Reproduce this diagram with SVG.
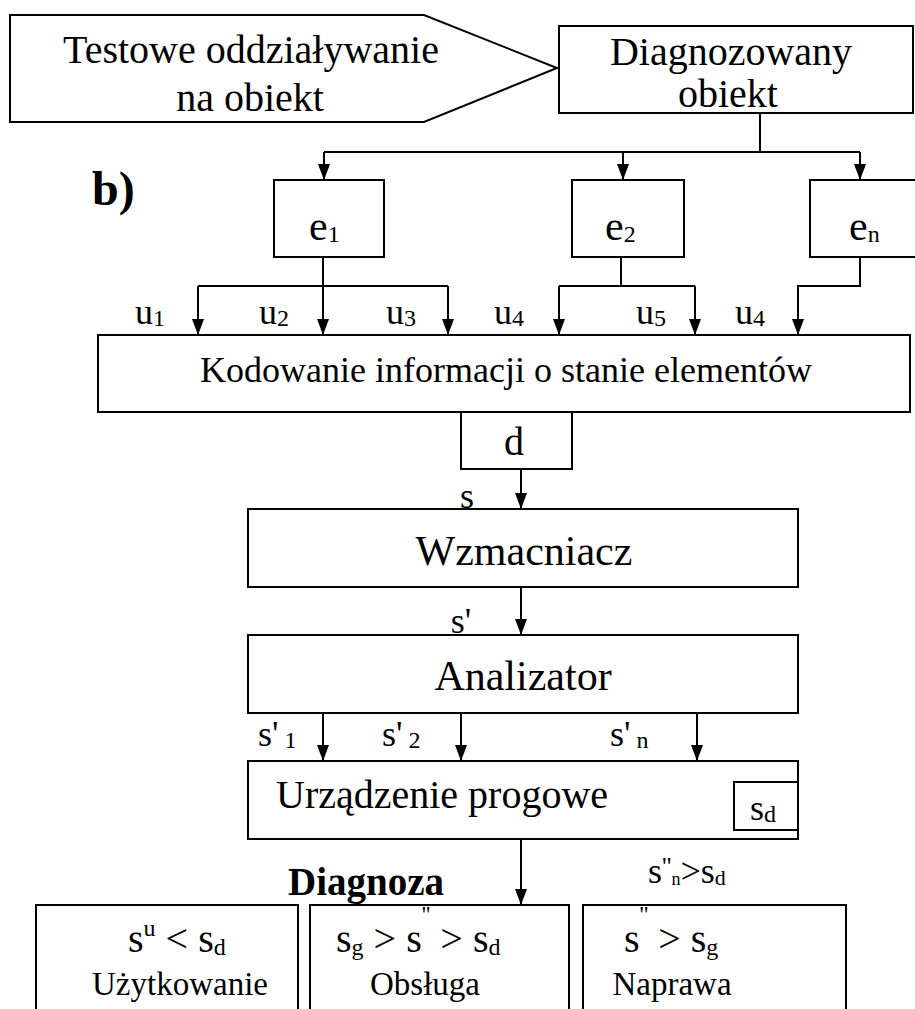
<svg xmlns="http://www.w3.org/2000/svg" width="915" height="1009" viewBox="0 0 915 1009">
  <style>
    .box { fill: #fff; stroke: #000; stroke-width: 2; }
    .wire { fill: none; stroke: #000; stroke-width: 2; }
    .t { font-family: "Liberation Serif", "Times New Roman", serif; fill: #000; }
    .big { font-size: 40px; }
    .mid { font-size: 36px; }
    .lab { font-size: 36px; }
    .elab { font-size: 42px; }
    .sub { font-size: 24px; }
    .cond { font-size: 40px; }
    .bold { font-weight: bold; }
  </style>
  <defs>
    <marker id="arrow" markerUnits="userSpaceOnUse" markerWidth="16" markerHeight="12" refX="16" refY="6" orient="auto">
      <path d="M0,0 L16,6 L0,12 z" fill="#000"/>
    </marker>
  </defs>
  <rect width="915" height="1009" fill="#fff"/>

  <!-- connectors -->
  <g id="connectors" class="wire">
    <!-- object to the three elements -->
    <path d="M760,113 V152"/>
    <path d="M324,152 H860"/>
    <path d="M324,152 V180" marker-end="url(#arrow)"/>
    <path d="M623,152 V180" marker-end="url(#arrow)"/>
    <path d="M860,152 V180" marker-end="url(#arrow)"/>
    <!-- e1 outputs -->
    <path d="M323,257 V286"/>
    <path d="M198,286 H448"/>
    <path d="M198,286 V335" marker-end="url(#arrow)"/>
    <path d="M323,286 V335" marker-end="url(#arrow)"/>
    <path d="M448,286 V335" marker-end="url(#arrow)"/>
    <!-- e2 outputs -->
    <path d="M621,257 V286"/>
    <path d="M559,286 H695"/>
    <path d="M559,286 V335" marker-end="url(#arrow)"/>
    <path d="M695,286 V335" marker-end="url(#arrow)"/>
    <!-- en output -->
    <path d="M860,257 V286 H798 V335" marker-end="url(#arrow)"/>
    <!-- main chain -->
    <path d="M521,469 V509" marker-end="url(#arrow)"/>
    <path d="M521,587 V635" marker-end="url(#arrow)"/>
    <path d="M323,713 V761" marker-end="url(#arrow)"/>
    <path d="M461,713 V761" marker-end="url(#arrow)"/>
    <path d="M697,713 V761" marker-end="url(#arrow)"/>
    <path d="M521,839 V905" marker-end="url(#arrow)"/>
  </g>

  <!-- test input -->
  <g id="test-input">
    <polygon class="box" points="10,15 424,15 557,68 424,122 10,122"/>
    <text class="t big" x="251" y="63" text-anchor="middle">Testowe oddziaływanie</text>
    <text class="t big" x="250" y="111" text-anchor="middle">na obiekt</text>
  </g>

  <!-- diagnosed object -->
  <g id="object">
    <rect class="box" x="559" y="26" width="354" height="87"/>
    <text class="t big" x="731" y="65" text-anchor="middle">Diagnozowany</text>
    <text class="t big" x="728" y="107" text-anchor="middle">obiekt</text>
  </g>

  <!-- panel label -->
  <text class="t bold" x="92" y="205" font-size="48">b)</text>

  <!-- elements -->
  <g id="e1">
    <rect class="box" x="274" y="180" width="110" height="77"/>
    <text class="t elab" x="309" y="240">e<tspan class="sub" dy="2">1</tspan></text>
  </g>
  <g id="e2">
    <rect class="box" x="572" y="180" width="112" height="77"/>
    <text class="t elab" x="605" y="240">e<tspan class="sub" dy="2">2</tspan></text>
  </g>
  <g id="en">
    <rect class="box" x="810" y="180" width="112" height="77"/>
    <text class="t elab" x="849" y="240">e<tspan class="sub" dy="2">n</tspan></text>
  </g>

  <!-- signal labels u -->
  <g id="u-labels" class="t lab">
    <text x="135" y="324">u<tspan class="sub" dy="2">1</tspan></text>
    <text x="259" y="324">u<tspan class="sub" dy="2">2</tspan></text>
    <text x="386" y="324">u<tspan class="sub" dy="2">3</tspan></text>
    <text x="494" y="324">u<tspan class="sub" dy="2">4</tspan></text>
    <text x="636" y="324">u<tspan class="sub" dy="2">5</tspan></text>
    <text x="735" y="324">u<tspan class="sub" dy="2">4</tspan></text>
  </g>

  <!-- coding -->
  <g id="coding">
    <rect class="box" x="98" y="335" width="812" height="77"/>
    <text class="t mid" x="506" y="382" text-anchor="middle">Kodowanie informacji o stanie elementów</text>
  </g>
  <g id="d">
    <rect class="box" x="461" y="412" width="111" height="57"/>
    <text class="t big" x="514" y="455" text-anchor="middle">d</text>
  </g>
  <text class="t lab" x="467" y="508" text-anchor="middle">s</text>

  <!-- amplifier -->
  <g id="amplifier">
    <rect class="box" x="248" y="509" width="550" height="78"/>
    <text class="t" font-size="42" x="524" y="565" text-anchor="middle">Wzmacniacz</text>
  </g>
  <text class="t lab" x="461" y="633" text-anchor="middle">s'</text>

  <!-- analyser -->
  <g id="analyser">
    <rect class="box" x="248" y="635" width="550" height="78"/>
    <text class="t" font-size="42" x="523" y="690" text-anchor="middle">Analizator</text>
  </g>
  <g id="s-labels" class="t lab">
    <text x="258" y="746">s'<tspan class="sub" dx="6" dy="2">1</tspan></text>
    <text x="382" y="746">s'<tspan class="sub" dx="6" dy="2">2</tspan></text>
    <text x="610" y="746">s'<tspan class="sub" dx="6" dy="2">n</tspan></text>
  </g>

  <!-- threshold device -->
  <g id="threshold">
    <rect class="box" x="248" y="761" width="550" height="78"/>
    <text class="t big" x="276" y="808">Urządzenie progowe</text>
    <rect class="box" x="734" y="782" width="64" height="48"/>
    <text class="t lab" x="750" y="820">s<tspan class="sub" dy="2">d</tspan></text>
  </g>

  <!-- diagnosis -->
  <text class="t bold" x="288" y="895" font-size="39">Diagnoza</text>
  <text class="t" x="648" y="883" font-size="36">s<tspan font-size="26" dy="-8">''</tspan><tspan font-size="18" dy="10">n</tspan><tspan dy="-2">&gt;s</tspan><tspan font-size="22" dy="2">d</tspan></text>

  <g id="use">
    <rect class="box" x="36" y="905" width="262" height="120"/>
    <text class="t cond" x="128" y="952">s<tspan class="sub" dy="-16">u</tspan><tspan dy="16"> &lt; s</tspan><tspan class="sub" dy="3">d</tspan></text>
    <text class="t" font-size="33" x="180" y="995" text-anchor="middle">Użytkowanie</text>
  </g>
  <g id="service">
    <rect class="box" x="310" y="905" width="259" height="120"/>
    <text class="t cond" x="336" y="952">s<tspan class="sub" dy="3">g</tspan><tspan dy="-3"> &gt; s</tspan><tspan class="sub" dy="-30">''</tspan><tspan dy="30"> &gt; s</tspan><tspan class="sub" dy="3">d</tspan></text>
    <text class="t" font-size="33" x="425" y="995" text-anchor="middle">Obsługa</text>
  </g>
  <g id="repair">
    <rect class="box" x="583" y="905" width="263" height="120"/>
    <text class="t cond" x="624" y="952">s<tspan class="sub" dy="-30">''</tspan><tspan dy="30"> &gt; s</tspan><tspan class="sub" dy="3">g</tspan></text>
    <text class="t" font-size="33" x="672" y="995" text-anchor="middle">Naprawa</text>
  </g>
</svg>
